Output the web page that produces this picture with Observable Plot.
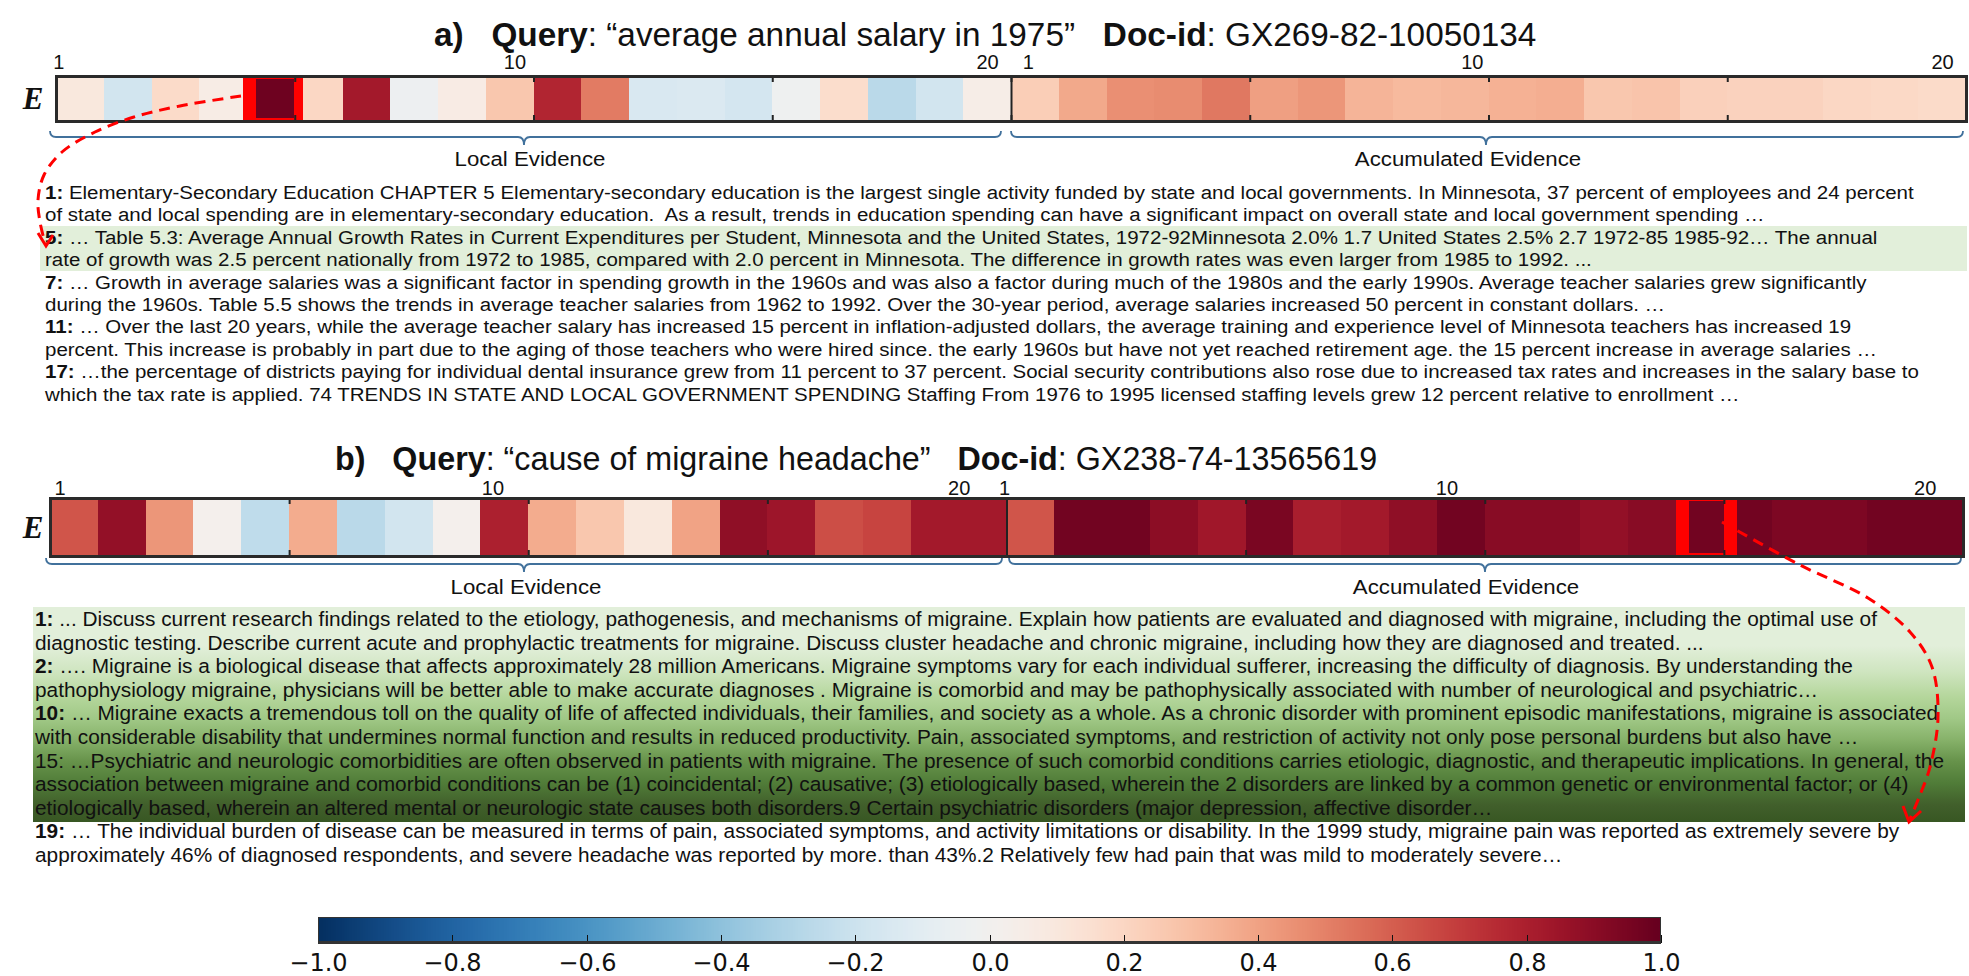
<!DOCTYPE html>
<html><head><meta charset="utf-8">
<script src="https://cdn.jsdelivr.net/npm/d3@7"></script>
<script src="https://cdn.jsdelivr.net/npm/@observablehq/plot@0.6"></script>
<style>
body{margin:0;background:#fff;}
#fig{position:relative;width:1969px;height:976px;overflow:hidden;background:#fff;font-family:"Liberation Sans",Arial,sans-serif;}
#fig > *{position:absolute;left:0;top:0;}
text{white-space:pre;}
</style></head><body><div id="fig"></div>
<script>
// ---------------- data ----------------
const cellNumbers = [1,2,3,4,5,6,7,8,9,10,11,12,13,14,15,16,17,18,19,20];
const localA = [0.10,-0.18,0.18,0.06,0.98,0.20,0.83,-0.04,0.07,0.27,0.78,0.52,-0.15,-0.14,-0.17,-0.03,0.17,-0.27,-0.18,0.05];
const accumA = [0.24,0.38,0.46,0.47,0.53,0.41,0.44,0.34,0.32,0.33,0.35,0.36,0.27,0.28,0.23,0.22,0.22,0.20,0.19,0.18];
const localB = [0.63,0.88,0.44,0.02,-0.25,0.37,-0.27,-0.18,0.02,0.80,0.37,0.27,0.10,0.40,0.89,0.85,0.65,0.68,0.83,0.83];
const accumB = [0.63,0.97,0.97,0.90,0.84,0.95,0.81,0.83,0.89,0.97,0.91,0.91,0.88,0.91,0.97,0.97,0.94,0.94,0.97,0.97];
const highlightA = {segment:"local", cell:5};
const highlightB = {segment:"accumulated", cell:15};
const tickLabels = ["1","10","20"];
const tickPosA = {local:[0.05,9.6,19.5], accumulated:[0.35,9.65,19.5]};
const tickPosB = {local:[0.2,9.25,19.0], accumulated:[-0.05,9.2,19.2]};
const gridTicks = [5,10,15,20,25,30,35];
const colorbarTicks = [-1,-0.8,-0.6,-0.4,-0.2,0,0.2,0.4,0.6,0.8,1];
const segmentLabels = ["Local Evidence","Accumulated Evidence"];

const titleA = [{t:"a)",b:1},{t:"   "},{t:"Query",b:1},{t:": “average annual salary in 1975”   "},{t:"Doc-id",b:1},{t:": GX269-82-10050134"}];
const titleB = [{t:"b)",b:1},{t:"   "},{t:"Query",b:1},{t:": “cause of migraine headache”   "},{t:"Doc-id",b:1},{t:": GX238-74-13565619"}];

const linesA = [
 [{t:"1:",b:1},{t:" Elementary-Secondary Education CHAPTER 5 Elementary-secondary education is the largest single activity funded by state and local governments. In Minnesota, 37 percent of employees and 24 percent"}],
 [{t:"of state and local spending are in elementary-secondary education.  As a result, trends in education spending can have a significant impact on overall state and local government spending …"}],
 [{t:"5:",b:1},{t:" … Table 5.3: Average Annual Growth Rates in Current Expenditures per Student, Minnesota and the United States, 1972-92Minnesota 2.0% 1.7 United States 2.5% 2.7 1972-85 1985-92… The annual"}],
 [{t:"rate of growth was 2.5 percent nationally from 1972 to 1985, compared with 2.0 percent in Minnesota. The difference in growth rates was even larger from 1985 to 1992. ..."}],
 [{t:"7:",b:1},{t:" … Growth in average salaries was a significant factor in spending growth in the 1960s and was also a factor during much of the 1980s and the early 1990s. Average teacher salaries grew significantly"}],
 [{t:"during the 1960s. Table 5.5 shows the trends in average teacher salaries from 1962 to 1992. Over the 30-year period, average salaries increased 50 percent in constant dollars. …"}],
 [{t:"11:",b:1},{t:" … Over the last 20 years, while the average teacher salary has increased 15 percent in inflation-adjusted dollars, the average training and experience level of Minnesota teachers has increased 19"}],
 [{t:"percent. This increase is probably in part due to the aging of those teachers who were hired since. the early 1960s but have not yet reached retirement age. the 15 percent increase in average salaries …"}],
 [{t:"17:",b:1},{t:" …the percentage of districts paying for individual dental insurance grew from 11 percent to 37 percent. Social security contributions also rose due to increased tax rates and increases in the salary base to"}],
 [{t:"which the tax rate is applied. 74 TRENDS IN STATE AND LOCAL GOVERNMENT SPENDING Staffing From 1976 to 1995 licensed staffing levels grew 12 percent relative to enrollment …"}]
];
const linesB = [
 [{t:"1:",b:1},{t:" ... Discuss current research findings related to the etiology, pathogenesis, and mechanisms of migraine. Explain how patients are evaluated and diagnosed with migraine, including the optimal use of"}],
 [{t:"diagnostic testing. Describe current acute and prophylactic treatments for migraine. Discuss cluster headache and chronic migraine, including how they are diagnosed and treated. ..."}],
 [{t:"2:",b:1},{t:" …. Migraine is a biological disease that affects approximately 28 million Americans. Migraine symptoms vary for each individual sufferer, increasing the difficulty of diagnosis. By understanding the"}],
 [{t:"pathophysiology migraine, physicians will be better able to make accurate diagnoses . Migraine is comorbid and may be pathophysically associated with number of neurological and psychiatric…"}],
 [{t:"10:",b:1},{t:" … Migraine exacts a tremendous toll on the quality of life of affected individuals, their families, and society as a whole. As a chronic disorder with prominent episodic manifestations, migraine is associated"}],
 [{t:"with considerable disability that undermines normal function and results in reduced productivity. Pain, associated symptoms, and restriction of activity not only pose personal burdens but also have …"}],
 [{t:"15: …Psychiatric and neurologic comorbidities are often observed in patients with migraine. The presence of such comorbid conditions carries etiologic, diagnostic, and therapeutic implications. In general, the"}],
 [{t:"association between migraine and comorbid conditions can be (1) coincidental; (2) causative; (3) etiologically based, wherein the 2 disorders are linked by a common genetic or environmental factor; or (4)"}],
 [{t:"etiologically based, wherein an altered mental or neurologic state causes both disorders.9 Certain psychiatric disorders (major depression, affective disorder…"}],
 [{t:"19:",b:1},{t:" … The individual burden of disease can be measured in terms of pain, associated symptoms, and activity limitations or disability. In the 1999 study, migraine pain was reported as extremely severe by"}],
 [{t:"approximately 46% of diagnosed respondents, and severe headache was reported by more. than 43%.2 Relatively few had pain that was mild to moderately severe…"}]
];

// ---------------- layout ----------------
const W = 1969, H = 976;
const fig = d3.select("#fig");
const colorScale = {type:"diverging", scheme:"rdbu", reverse:true, domain:[-1,1]};
const FONT = "Liberation Sans, Arial, sans-serif";

// background text layer
const bg = fig.append("svg").attr("width",W).attr("height",H).style("z-index",0);
const defs = bg.append("defs");
const grad = defs.append("linearGradient").attr("id","gb").attr("x1",0).attr("y1",0).attr("x2",0).attr("y2",1);
[[0,"#e2efda"],[0.18,"#e2efda"],[0.30,"#cfe5c0"],[0.42,"#b4d69b"],[0.52,"#a0c886"],[0.62,"#86b169"],[0.72,"#66924a"],[0.82,"#507c38"],[0.92,"#415f2b"],[1,"#385723"]]
  .forEach(([o,c])=>grad.append("stop").attr("offset",o).attr("stop-color",c));
bg.append("rect").attr("x",40).attr("y",226).attr("width",1927).attr("height",45).attr("fill","#e2efda");
bg.append("rect").attr("x",33).attr("y",607).attr("width",1932).attr("height",215).attr("fill","url(#gb)");

function spans(textSel, parts){
  parts.forEach(p=>textSel.append("tspan").attr("font-weight",p.b?"bold":null).text(p.t));
}
function block(svg, lines, {x, y0, dy, fontSize, fitLine, fitWidth}){
  const g = svg.append("g").attr("font-family",FONT).attr("fill","#111");
  const nodes = lines.map((ln,i)=>{
    const t = g.append("text").attr("font-size",fontSize);
    spans(t, ln);
    return t;
  });
  const s = fitWidth / nodes[fitLine].node().getComputedTextLength();
  nodes.forEach((t,i)=>t.attr("transform",`translate(${x},${y0+i*dy}) scale(${s},1)`));
}
block(bg, linesA, {x:45, y0:199, dy:22.4, fontSize:19, fitLine:0, fitWidth:1870});
block(bg, linesB, {x:35, y0:626, dy:23.6, fontSize:19.5, fitLine:6, fitWidth:1910});

// ---------------- heat strips (Plot) ----------------
function strip(local, accum, hl, tickPos, o){
  const cells = [
    ...local.map((v,i)=>({pos:i, n:cellNumbers[i], v})),
    ...accum.map((v,i)=>({pos:20+i, n:cellNumbers[i], v}))
  ];
  const hPos = (hl.segment==="local"?0:20) + hl.cell - 1;
  const hCell = cells.filter(d=>d.pos===hPos);
  const labels = [
    ...tickPos.local.map((p,i)=>({p, t:tickLabels[i]})),
    ...tickPos.accumulated.map((p,i)=>({p:20+p, t:tickLabels[i]}))
  ];
  const h = o.height - o.marginTop - o.marginBottom;
  const tk = 6/h;
  return Plot.plot({
    width: W, height: o.height,
    marginTop: o.marginTop, marginBottom: o.marginBottom, marginLeft: o.marginLeft, marginRight: o.marginRight,
    x:{domain:[0,40], axis:null}, y:{domain:[0,1], axis:null},
    color: colorScale,
    style:{background:"transparent", fontFamily:FONT, fontSize:"20px", color:"#111", maxWidth:"none"},
    marks:[
      Plot.rect(cells, {x1:"pos", x2:d=>d.pos+1, y1:0, y2:1, fill:"v", shapeRendering:"crispEdges"}),
      Plot.rect(hCell, {x1:"pos", x2:d=>d.pos+1, y1:0, y2:1, fill:"#ff0000", insetLeft:o.hl[0], insetRight:o.hl[1], shapeRendering:"crispEdges"}),
      Plot.rect(hCell, {x1:"pos", x2:d=>d.pos+1, y1:0, y2:1, fill:"v", insetLeft:o.hl[2], insetRight:o.hl[3], insetTop:3, insetBottom:3, shapeRendering:"crispEdges"}),
      Plot.ruleX([20], {y1:0, y2:1, stroke:"#222", strokeWidth:2}),
      Plot.ruleX(gridTicks, {y1:1, y2:1-tk, stroke:"#222", strokeWidth:2}),
      Plot.ruleX(gridTicks, {y1:0, y2:tk, stroke:"#222", strokeWidth:2}),
      Plot.frame({stroke:"#2a2a2a", strokeWidth:3}),
      Plot.text(labels, {x:"p", y:1, dy:o.labelDy, text:"t", fill:"#111", fontSize:20})
    ]
  });
}
const plotA = strip(localA, accumA, highlightA, tickPosA, {height:130, marginTop:76, marginBottom:9, marginLeft:56, marginRight:3, labelDy:-14, hl:[-4,-8,9,1]});
const plotB = strip(localB, accumB, highlightB, tickPosB, {height:140, marginTop:68, marginBottom:14, marginLeft:50, marginRight:6, labelDy:-10, hl:[0,-13,13,0]});
fig.node().appendChild(plotA); d3.select(plotA).style("top","0px").style("z-index",1);
fig.node().appendChild(plotB); d3.select(plotB).style("top","430px").style("z-index",1);

// ---------------- colorbar (Plot legend) ----------------
const leg = Plot.legend({
  color: colorScale, label: null,
  width: 1403, height: 80, marginLeft: 30, marginRight: 30, marginTop: 0, marginBottom: 54,
  tickSize: 8, ticks: colorbarTicks, tickFormat: d3.format(".1f"),
  style:{fontSize:"24px", fontFamily:"DejaVu Sans, sans-serif", background:"transparent", color:"#111", overflow:"visible"}
});
fig.node().appendChild(leg);
d3.select(leg).style("left","288px").style("top","917px").style("z-index",1);
d3.select(leg).selectAll(".tick line").attr("y1",-8).attr("y2",0).attr("stroke","#111");
d3.select(leg).append("rect").attr("x",30.5).attr("y",0.5).attr("width",1342).attr("height",25).attr("fill","none").attr("stroke","#333");
d3.select(leg).append("line").attr("x1",30).attr("x2",1373).attr("y1",25.5).attr("y2",25.5).attr("stroke","#333").attr("stroke-width",3);

// ---------------- overlay annotations ----------------
const ov = fig.append("svg").attr("width",W).attr("height",H).style("z-index",5).style("pointer-events","none");
function title(parts, x, y, width){
  const t = ov.append("text").attr("font-family",FONT).attr("font-size",33).attr("fill","#111");
  spans(t, parts);
  const s = width / t.node().getComputedTextLength();
  t.attr("transform",`translate(${x},${y}) scale(${s},1)`);
}
title(titleA, 434, 46, 1103);
title(titleB, 335, 470, 1043);

[[33,98],[33,527]].forEach(([x,y])=>ov.append("text").attr("x",x).attr("y",y).attr("text-anchor","middle").attr("dominant-baseline","central")
  .attr("font-family","Liberation Serif, serif").attr("font-weight","bold").attr("font-style","italic").attr("font-size",31).attr("fill","#111").text("E"));

function bracket(x1, x2, xm, y){
  const r=6;
  ov.append("path").attr("d",`M${x1},${y-r} Q${x1},${y} ${x1+r},${y} L${xm-r},${y} Q${xm},${y} ${xm},${y+8} Q${xm},${y} ${xm+r},${y} L${x2-r},${y} Q${x2},${y} ${x2},${y-r}`)
    .attr("fill","none").attr("stroke","#41719c").attr("stroke-width",1.8);
}
bracket(50,1001,524,137); bracket(1011,1963,1486,137);
bracket(46,1002,524,564); bracket(1009,1961,1485,564);

function segLabel(txt, x, y){
  const t = ov.append("text").attr("font-family",FONT).attr("font-size",21).attr("fill","#111").attr("text-anchor","middle").text(txt);
  t.attr("transform",`translate(${x},${y}) scale(1.06,1)`);
}
segLabel(segmentLabels[0],530,166); segLabel(segmentLabels[1],1468,166);
segLabel(segmentLabels[0],526,594); segLabel(segmentLabels[1],1466,594);

const curve = d3.line().curve(d3.curveCatmullRom);
function arrow(pts, head){
  ov.append("path").attr("d",curve(pts)).attr("fill","none").attr("stroke","#ff0000").attr("stroke-width",3).attr("stroke-dasharray","11 7");
  ov.append("path").attr("d",`M${head[0][0]},${head[0][1]} L${head[1][0]},${head[1][1]} L${head[2][0]},${head[2][1]}`)
    .attr("fill","none").attr("stroke","#ff0000").attr("stroke-width",3);
}
arrow([[241,96],[180,106],[134,117],[95,132],[62,152],[44,175],[38,200],[40,222],[45,243]], [[38,233],[46,246],[53,235]]);
arrow([[1722,522],[1800,565],[1868,598],[1910,632],[1932,667],[1938,717],[1930,767],[1920,795],[1910,819]], [[1903,806],[1909,822],[1921,811]]);
</script></body></html>
